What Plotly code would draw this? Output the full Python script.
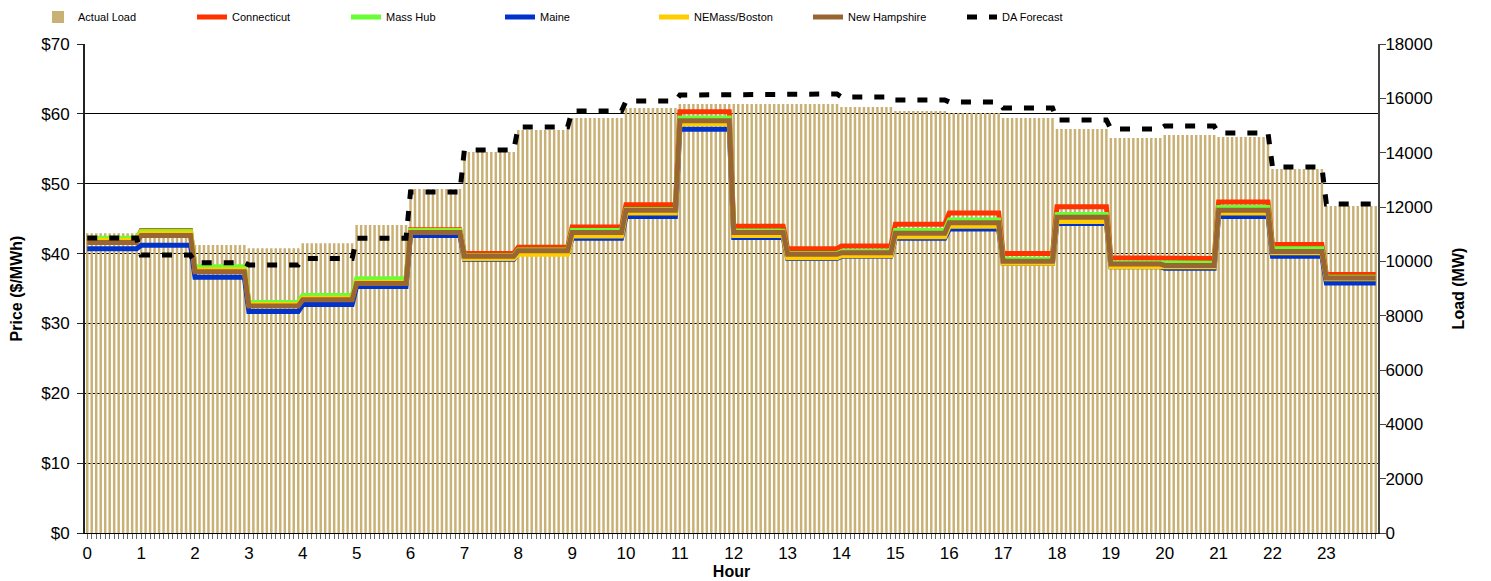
import numpy as np
import plotly.graph_objects as go

hours = list(range(24))
hour_labels = [str(h) for h in hours]
intervals_per_hour = 12

actual_load = [11030, 11200, 10600, 10480, 10665, 11340, 12660, 14025, 14835, 15275, 15645, 15790,
               15790, 15790, 15680, 15535, 15460, 15275, 14870, 14540, 14650, 14580, 13400, 12040]
da_forecast = [10860, 10230, 9950, 9865, 10100, 10850, 12550, 14100, 14945, 15535, 15900, 16120,
               16160, 16160, 16050, 15940, 15865, 15645, 15200, 14870, 14980, 14725, 13470, 12110]
connecticut = [42.0, 43.3, 37.9, 32.8, 33.8, 36.1, 43.4, 40.0, 40.9, 43.8, 47.0, 60.3,
               43.9, 40.7, 41.1, 44.2, 45.8, 40.0, 46.7, 39.4, 39.3, 47.4, 41.3, 37.0]
mass_hub = [42.2, 43.2, 38.1, 33.0, 34.0, 36.4, 43.3, 39.7, 40.5, 43.3, 46.3, 59.4,
            43.2, 40.0, 40.3, 43.3, 44.8, 39.2, 45.6, 38.7, 38.6, 46.6, 40.7, 36.6]
maine = [40.7, 41.2, 36.6, 31.7, 32.7, 35.3, 42.6, 39.2, 40.1, 42.2, 45.3, 57.8,
         42.3, 39.3, 39.6, 42.2, 43.5, 38.6, 44.3, 38.1, 37.9, 45.3, 39.6, 35.8]
nemass_boston = [41.9, 42.9, 37.7, 32.7, 33.6, 35.9, 43.1, 39.3, 39.9, 42.5, 45.8, 58.6,
                 42.6, 39.4, 39.7, 42.4, 43.9, 38.6, 44.6, 38.1, 38.1, 45.8, 40.1, 36.4]
new_hampshire = [41.6, 42.6, 37.4, 32.5, 33.4, 35.7, 43.0, 39.6, 40.4, 43.0, 46.2, 59.0,
                 43.0, 39.9, 40.1, 42.9, 44.4, 38.9, 45.2, 38.5, 38.3, 46.2, 40.3, 36.5]

n = len(hours) * intervals_per_hour
x = np.arange(n)


def expand(vals):
    return np.repeat(np.array(vals, dtype=float), intervals_per_hour)


fig = go.Figure()
fig.add_trace(go.Bar(x=x, y=expand(actual_load), name="Actual Load", marker_color="#C9B074",
                     marker_line_width=0, yaxis="y"))
series = [("Connecticut", connecticut, "#FF3300"), ("Mass Hub", mass_hub, "#66FF33"),
          ("Maine", maine, "#0033CC"), ("NEMass/Boston", nemass_boston, "#FFCC00"),
          ("New Hampshire", new_hampshire, "#996633")]
for name, vals, col in series:
    fig.add_trace(go.Scatter(x=x, y=expand(vals), name=name, mode="lines",
                             line=dict(color=col, width=5), yaxis="y2"))
fig.add_trace(go.Scatter(x=x, y=expand(da_forecast), name="DA Forecast", mode="lines",
                         line=dict(color="black", width=5, dash="10px,12px"), yaxis="y3"))

tick_font = dict(size=17, color="black")
title_font = dict(size=16, color="black")

W, H = 1483, 573

fig.update_layout(
    width=W, height=H,
    margin=dict(l=77, r=113, t=36, b=48, autoexpand=False),
    plot_bgcolor="white", paper_bgcolor="white",
    font=dict(family="Liberation Sans, Arial, sans-serif", color="black", size=15),
    bargap=0.45,
    showlegend=True,
    legend=dict(orientation="h", xref="container", yref="container",
                x=30 / W, y=1 - 9 / H, xanchor="left", yanchor="middle",
                entrywidth=109, entrywidthmode="pixels",
                font=dict(size=11), bgcolor="rgba(0,0,0,0)", traceorder="normal"),
    xaxis=dict(range=[-0.5, n - 0.5], tickmode="array", automargin=False,
               tickvals=[h * intervals_per_hour for h in hours], ticktext=hour_labels,
               ticks="outside", ticklen=5, tickcolor="#666", tickfont=tick_font,
               minor=dict(dtick=1, tick0=0, ticks="outside", ticklen=5, tickcolor="#666"),
               showline=True, linecolor="black", linewidth=1, showgrid=False, zeroline=False,
               title=dict(text="<b>Hour</b>", standoff=0, font=title_font)),
    yaxis=dict(range=[0, 18000], dtick=2000, tickformat="d", side="right", showgrid=False,
               zeroline=False, automargin=False, tickfont=tick_font, ticklabelstandoff=-4,
               showline=True, linecolor="#444", linewidth=2, ticks="outside", ticklen=6,
               tickcolor="#444",
               title=dict(text="<b>Load (MW)</b>", font=title_font, standoff=21)),
    yaxis2=dict(range=[0, 70], dtick=10, tickprefix="$", side="left", overlaying="y",
                showgrid=True, gridcolor="black", gridwidth=1, zeroline=False,
                automargin=False, tickfont=tick_font, ticklabelstandoff=4,
                showline=True, linecolor="#222", linewidth=2, ticks="outside", ticklen=6,
                tickcolor="#222",
                title=dict(text="<b>Price ($/MWh)</b>", font=title_font, standoff=15)),
    yaxis3=dict(range=[0, 18000], overlaying="y", visible=False),
)

fig.write_html("out.html")
